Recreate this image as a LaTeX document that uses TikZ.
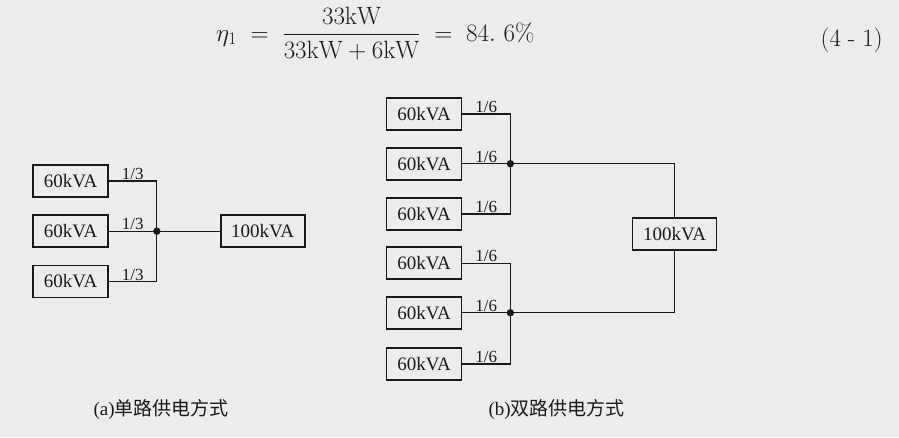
\documentclass[tikz,border=0pt]{standalone}
\usepackage{fix-cm}
\usepackage{amsmath}
\usepackage{fontspec}
\newfontfamily\cjk{Noto Sans CJK SC}
\newfontfamily\boxfont{Liberation Serif}
\usetikzlibrary{positioning}
\definecolor{paper}{RGB}{236,236,236}
\definecolor{ink}{RGB}{25,25,25}

\begin{document}
\begin{tikzpicture}[
    x=1pt, y=-1pt,
    ink,
    src/.style={draw, line width=1.7pt, minimum width=75pt, minimum height=32pt, inner sep=2pt,
                font=\boxfont\fontsize{19}{21}\selectfont},
    load/.style={src, minimum width=84pt},
    wire/.style={line width=1.2pt},
    lbl/.style={above, inner sep=0.5pt, font=\boxfont\fontsize{17}{17}\selectfont},
    dot/.style={fill=ink},
    figcap/.style={anchor=west, font=\fontsize{19}{21}\selectfont}
  ]

% paper
    \fill[paper] (0,0) rectangle (899,437);

% --- formula (4-1) ---
    \node[anchor=base west, inner sep=0pt, font=\fontsize{25}{29}\selectfont] (eqn) at (216,41)
      {$\eta_1\;=\;\dfrac{33\mathrm{kW}}{33\mathrm{kW}+6\mathrm{kW}}\;=\;84.\ 6\%$};
    \node[anchor=east, inner sep=0pt, font=\fontsize{25}{29}\selectfont] (eqno) at (883,40) {(4\;-\;1)};

% --- (a) single path: three 60kVA units into one 100kVA load ---
    \node[src] (L1) at (70.5,181) {60kVA};
    \node[src, below=16.5pt of L1] (L2) {60kVA};
    \node[src, below=16.5pt of L2] (L3) {60kVA};
    \coordinate (jL) at ([xshift=48pt]L2.east);
    \node[load, right=63pt of jL] (Lout) {100kVA};

    \draw[wire] (L1.east) -- node[lbl] {1/3} (L1.east -| jL) -- (jL);
    \draw[wire] (L2.east) -- node[lbl] {1/3} (jL);
    \draw[wire] (L3.east) -- node[lbl] {1/3} (L3.east -| jL) -- (jL);
    \draw[wire] (jL) -- (Lout);
    \fill[dot] (jL) circle (3.7pt);

% --- (b) dual path: two groups of three into one 100kVA load ---
    \node[src] (R1) at (424,114) {60kVA};
    \node[src, below=16pt of R1] (R2) {60kVA};
    \node[src, below=16.5pt of R2] (R3) {60kVA};
    \node[src, below=15.5pt of R3] (R4) {60kVA};
    \node[src, below=16pt of R4] (R5) {60kVA};
    \node[src, below=17.5pt of R5] (R6) {60kVA};
    \coordinate (jR1) at ([xshift=48pt]R2.east);
    \coordinate (jR2) at ([xshift=48pt]R5.east);
    \node[load] (Rout) at (674.5,234) {100kVA};

    \draw[wire] (R1.east) -- node[lbl] {1/6} (R1.east -| jR1) -- (jR1);
    \draw[wire] (R2.east) -- node[lbl] {1/6} (jR1);
    \draw[wire] (R3.east) -- node[lbl] {1/6} (R3.east -| jR1) -- (jR1);
    \draw[wire] (R4.east) -- node[lbl] {1/6} (R4.east -| jR2) -- (jR2);
    \draw[wire] (R5.east) -- node[lbl] {1/6} (jR2);
    \draw[wire] (R6.east) -- node[lbl] {1/6} (R6.east -| jR2) -- (jR2);
    \draw[wire] (jR1) -| (Rout.north);
    \draw[wire] (jR2) -| (Rout.south);
    \fill[dot] (jR1) circle (3.7pt);
    \fill[dot] (jR2) circle (3.7pt);

% --- captions ---
    \node[figcap] (capA) at (90,409) {{\boxfont(a)}{\cjk 单路供电方式}};
    \node[figcap] (capB) at (485,409) {{\boxfont(b)}{\cjk 双路供电方式}};

\end{tikzpicture}
\end{document}
